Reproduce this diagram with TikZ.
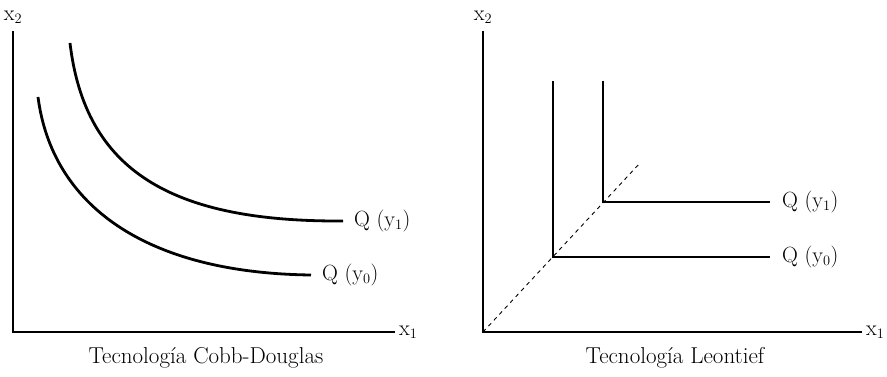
\documentclass[tikz,border=0pt]{standalone}
\usepackage{tikz}
\usetikzlibrary{positioning, calc}

\begin{document}
\begin{tikzpicture}[
    x=1pt,
    y=-1pt,
    font=\fontsize{22}{26}\selectfont,
    axis/.style={
        line width=2.8pt,
        draw=black
    },
    curve/.style={
        line width=2.8pt,
        draw=black
    },
    ray/.style={
        line width=0.9pt,
        draw=black,
        dash pattern=on 4pt off 4pt
    },
    label/.style={
        inner sep=1pt
    },
    caption/.style={
        font=\fontsize{23}{27}\selectfont,
        inner sep=1pt
    }
]
\useasboundingbox (0,0) rectangle (887,377);

% ============================================================
% Left: Cobb-Douglas isoquants
% ============================================================

\begin{scope}[local bounding box=cobb]
    \coordinate (o1)  at (13,332);
    \coordinate (ya1) at (13,31);
    \coordinate (xa1) at (395,332);
    \draw[axis] (ya1) -- (o1) -- (xa1);

    \node[label, above=6pt of ya1] (lx2a) {x$_2$};
    \node[label, right=3pt of xa1] (lx1a) {x$_1$};

    % isoquants
    \draw[curve] (70,43) .. controls (85,170) and (170,222) .. (343,221)
        coordinate (cy1);
    \draw[curve] (38,97) .. controls (52,205) and (145,273) .. (311,275)
        coordinate (cy0);

    \node[label, right=10pt of cy1] (qa1) {Q (y$_1$)};
    \node[label, right=10pt of cy0] (qa0) {Q (y$_0$)};

    \node[caption] (capa) at (206,358) {Tecnología Cobb-Douglas};
\end{scope}

% ============================================================
% Right: Leontief isoquants
% ============================================================

\begin{scope}[local bounding box=leon]
    \coordinate (o2)  at (483,332);
    \coordinate (ya2) at (483,31);
    \coordinate (xa2) at (862,332);
    \draw[axis] (ya2) -- (o2) -- (xa2);

    \node[label, above=6pt of ya2] (lx2b) {x$_2$};
    \node[label, right=3pt of xa2] (lx1b) {x$_1$};

    % expansion ray through the corners
    \coordinate (rend) at (640,163);
    \draw[ray] (o2) -- (rend);

    \foreach \n/\xc/\yc in {0/553/257, 1/603/202} {
        \coordinate (k\n)   at (\xc,\yc);
        \coordinate (top\n) at (\xc,81);
        \coordinate (end\n) at (770,\yc);
        \draw[curve] (top\n) -- (k\n) -- (end\n);
        \node[label, right=11pt of end\n] (qb\n) {Q (y$_\n$)};
    }

    \node[caption] (capb) at (675,358) {Tecnología Leontief};
\end{scope}

\end{tikzpicture}
\end{document}
